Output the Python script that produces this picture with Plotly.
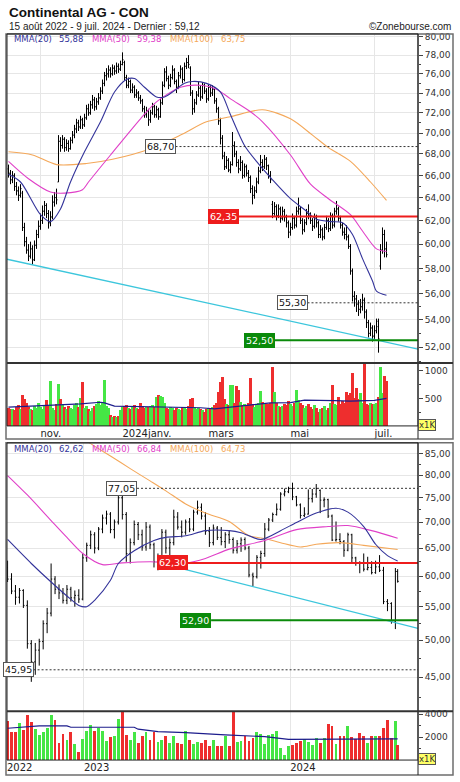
import math
import pandas as pd
import plotly.graph_objects as go

# ============================ DATA ============================
# Upper chart: daily bars, 10 Oct 2023 - 9 Jul 2024 (Xetra trading days)
daily_start, daily_end = "2023-10-10", "2024-07-09"
daily_holidays = ["2023-12-25", "2023-12-26", "2024-01-01", "2024-03-29", "2024-04-01", "2024-05-01"]

d_open = [66.6, 66.2, 65.6, 66.0, 65.0, 64.6, 64.2, 64.4, 61.4, 60.2,
          59.5, 59.0, 59.6, 58.7, 59.9, 60.8, 61.5, 62.0, 62.8, 63.3,
          62.6, 61.8, 62.3, 63.6, 64.0, 65.4, 69.2, 68.8, 69.4, 68.6,
          69.0, 68.5, 69.3, 69.8, 70.4, 71.0, 70.6, 71.3, 70.8, 71.5,
          72.4, 72.0, 72.8, 73.3, 72.6, 73.1, 73.5, 74.2, 75.0, 75.8,
          76.0, 76.4, 76.0, 76.6, 76.3, 76.8, 76.5, 77.0, 77.2, 75.6,
          74.8, 75.2, 74.3, 74.6, 73.8, 74.0, 73.5, 73.2, 72.4, 71.8,
          72.2, 71.3, 72.0, 72.6, 71.8, 72.3, 71.6, 73.0, 74.8, 76.2,
          75.5, 74.8, 75.6, 76.4, 75.2, 74.6, 75.8, 76.5, 75.4, 76.8,
          77.2, 76.6, 74.0, 72.4, 73.0, 73.8, 74.5, 73.6, 74.8, 74.2,
          73.4, 74.6, 74.0, 74.4, 73.2, 72.4, 71.2, 69.5, 67.8, 66.8,
          67.4, 66.5, 67.0, 68.8, 68.0, 67.2, 66.6, 67.2, 66.0, 66.8,
          66.2, 65.8, 64.8, 64.2, 64.6, 65.4, 66.4, 67.2, 66.8, 67.5,
          66.9, 66.0, 63.4, 62.6, 63.2, 62.4, 63.0, 62.2, 62.8, 62.3,
          61.8, 61.0, 61.4, 62.2, 61.6, 62.8, 63.0, 62.0, 61.2, 61.8,
          62.6, 62.4, 62.0, 61.5, 62.3, 61.8, 60.8, 61.2, 60.6, 61.4,
          62.0, 61.3, 62.4, 61.6, 62.8, 63.0, 62.2, 61.6, 61.0, 60.8,
          60.6, 59.8, 57.8, 55.8, 55.6, 55.2, 54.8, 55.0, 55.5, 54.6,
          53.8, 53.0, 53.4, 52.8, 53.2, 53.5, 58.2, 59.5, 60.8, 59.6]
d_high = [67.0, 66.5, 66.4, 66.2, 65.4, 65.0, 65.2, 64.6, 61.8, 60.6,
          60.0, 60.2, 59.9, 60.3, 61.2, 62.0, 62.6, 63.3, 63.7, 63.5,
          62.9, 62.8, 64.2, 64.5, 64.8, 69.8, 69.6, 69.8, 69.6, 69.4,
          69.3, 69.6, 70.2, 70.8, 71.4, 71.3, 71.7, 71.5, 71.9, 72.8,
          72.9, 73.2, 73.8, 73.6, 73.5, 74.0, 74.6, 75.4, 76.2, 76.6,
          76.9, 76.7, 77.0, 76.9, 77.2, 77.1, 77.4, 78.3, 77.4, 75.9,
          75.6, 75.4, 75.0, 74.8, 74.4, 74.2, 73.8, 73.4, 72.7, 72.6,
          72.4, 72.3, 73.0, 72.8, 72.7, 72.5, 73.4, 75.2, 76.6, 76.8,
          75.8, 76.0, 76.9, 76.6, 75.4, 76.2, 76.9, 76.7, 77.2, 77.7,
          78.0, 76.8, 74.3, 73.4, 74.2, 75.2, 74.8, 75.1, 75.0, 74.5,
          74.9, 74.8, 74.8, 74.6, 73.5, 72.6, 71.5, 69.8, 68.2, 67.8,
          67.6, 67.3, 70.1, 69.2, 68.3, 67.5, 67.8, 67.4, 67.1, 67.0,
          66.5, 66.0, 65.1, 65.0, 65.8, 66.8, 67.9, 67.5, 67.9, 67.7,
          67.0, 66.4, 63.7, 63.6, 63.4, 63.4, 63.2, 63.2, 63.0, 62.5,
          62.0, 61.8, 62.6, 62.4, 63.2, 64.0, 63.2, 62.2, 62.1, 63.0,
          63.4, 62.7, 62.2, 62.6, 62.5, 62.0, 61.6, 61.4, 61.7, 62.4,
          62.2, 62.7, 62.6, 63.1, 63.7, 63.2, 62.4, 61.8, 61.4, 61.6,
          60.8, 60.0, 58.0, 56.2, 55.9, 55.5, 55.6, 56.0, 55.7, 54.8,
          54.0, 53.8, 53.6, 53.6, 54.1, 54.1, 60.0, 61.4, 61.2, 60.2]
d_low = [65.8, 65.2, 65.3, 64.6, 64.2, 63.7, 64.0, 61.1, 59.8, 59.2,
         58.6, 58.8, 58.3, 58.6, 59.6, 60.5, 61.2, 61.7, 62.4, 62.2,
         61.3, 61.5, 62.1, 63.2, 63.4, 65.4, 68.2, 68.5, 68.2, 68.3,
         68.2, 68.4, 69.0, 69.5, 70.0, 70.2, 70.4, 70.4, 70.6, 71.3,
         71.7, 71.8, 72.4, 72.2, 72.3, 72.8, 73.3, 73.9, 74.7, 75.3,
         75.6, 75.6, 75.8, 75.9, 76.0, 76.1, 76.3, 76.9, 75.3, 74.5,
         74.5, 74.0, 74.0, 73.5, 73.5, 73.2, 72.9, 72.1, 71.5, 71.5,
         70.7, 71.0, 71.8, 71.5, 71.5, 71.3, 71.5, 72.8, 74.6, 75.2,
         74.4, 74.6, 75.4, 74.9, 74.0, 74.4, 75.5, 75.0, 75.2, 76.5,
         76.6, 73.7, 71.8, 72.0, 72.8, 73.6, 73.2, 73.4, 73.9, 73.0,
         73.2, 73.6, 73.7, 72.9, 72.0, 70.8, 68.9, 67.5, 66.5, 66.6,
         66.3, 66.2, 66.9, 67.7, 66.8, 66.2, 66.4, 65.7, 65.8, 65.9,
         65.4, 64.4, 63.4, 63.9, 64.4, 65.2, 66.2, 66.4, 66.6, 66.5,
         65.7, 65.3, 62.2, 62.4, 62.0, 62.2, 61.8, 62.0, 61.9, 61.4,
         60.5, 60.7, 61.2, 61.3, 61.4, 62.5, 61.7, 60.8, 61.0, 61.6,
         62.1, 61.7, 61.1, 61.3, 61.4, 60.5, 60.5, 60.3, 60.4, 61.2,
         61.0, 61.1, 61.3, 61.4, 62.5, 61.9, 61.3, 60.7, 60.4, 60.3,
         59.6, 57.5, 55.4, 55.0, 54.6, 54.3, 54.5, 54.7, 54.1, 53.4,
         52.7, 52.8, 52.4, 52.6, 53.0, 51.6, 57.9, 59.2, 58.9, 58.9]
d_close = [66.2, 65.6, 66.0, 65.0, 64.6, 64.2, 64.8, 61.4, 60.2, 59.5,
           59.0, 59.6, 58.7, 59.9, 60.8, 61.5, 62.0, 62.8, 63.3, 62.6,
           61.8, 62.3, 63.6, 64.0, 63.8, 69.2, 68.8, 69.4, 68.6, 69.0,
           68.5, 69.3, 69.8, 70.4, 71.0, 70.6, 71.3, 70.8, 71.5, 72.4,
           72.0, 72.8, 73.3, 72.6, 73.1, 73.5, 74.2, 75.0, 75.8, 76.0,
           76.4, 76.0, 76.6, 76.3, 76.8, 76.5, 77.0, 77.5, 75.6, 74.8,
           75.2, 74.3, 74.6, 73.8, 74.0, 73.5, 73.2, 72.4, 71.8, 72.2,
           71.3, 72.0, 72.6, 71.8, 72.3, 71.6, 73.0, 74.8, 76.2, 75.5,
           74.8, 75.6, 76.4, 75.2, 74.6, 75.8, 76.5, 75.4, 76.8, 77.2,
           77.0, 74.0, 72.4, 73.0, 73.8, 74.5, 73.6, 74.8, 74.2, 73.4,
           74.6, 74.0, 74.4, 73.2, 72.4, 71.2, 69.5, 67.8, 66.8, 67.4,
           66.5, 67.0, 68.8, 68.0, 67.2, 66.6, 67.2, 66.0, 66.8, 66.2,
           65.8, 64.8, 64.2, 64.6, 65.4, 66.4, 67.2, 66.8, 67.5, 66.9,
           66.0, 65.6, 62.6, 63.2, 62.4, 63.0, 62.2, 62.8, 62.3, 61.8,
           61.0, 61.4, 62.2, 61.6, 62.8, 63.0, 62.0, 61.2, 61.8, 62.6,
           62.4, 62.0, 61.5, 62.3, 61.8, 60.8, 61.2, 60.6, 61.4, 62.0,
           61.3, 62.4, 61.6, 62.8, 63.0, 62.2, 61.6, 61.0, 60.8, 60.6,
           59.8, 57.8, 55.8, 55.6, 55.2, 54.8, 55.0, 55.5, 54.6, 53.8,
           53.0, 53.4, 52.8, 53.2, 53.9, 52.6, 59.5, 60.8, 59.6, 59.12]
d_vol = [330, 300, 310, 290, 340, 380, 300, 565, 490, 420,
         350, 300, 280, 360, 330, 410, 350, 300, 380, 470,
         360, 810, 330, 290, 400, 770, 480, 400, 350, 300,
         360, 320, 300, 380, 420, 340, 500, 795, 330, 360,
         300, 270, 330, 360, 400, 450, 380, 410, 830, 360,
         330, 200, 160, 170, 165, 175, 290, 340, 360, 380,
         330, 300, 350, 380, 320, 300, 420, 360, 330, 340,
         350, 360, 380, 340, 530, 560, 540, 520, 420, 330,
         310, 350, 320, 290, 330, 300, 280, 340, 320, 300,
         360, 480, 500, 340, 300, 320, 300, 290, 260, 310,
         330, 300, 350, 380, 420, 620, 800, 890, 480, 400,
         380, 750, 750, 420, 730, 660, 430, 380, 400, 360,
         420, 870, 400, 350, 380, 420, 635, 430, 400, 390,
         400, 420, 1076, 620, 420, 360, 350, 370, 400, 380,
         460, 400, 360, 420, 650, 470, 420, 380, 330, 360,
         400, 340, 300, 380, 330, 250, 300, 330, 360, 280,
         330, 420, 740, 400, 380, 520, 400, 450, 420, 620,
         560, 600, 960, 500, 680, 480, 600, 420, 1135, 400,
         380, 410, 390, 400, 420, 520, 1076, 600, 910, 810]

# moving averages of the upper chart, read at bar indices
ma20_top_i = [0, 6, 16, 21, 26, 31, 38, 46, 53, 59, 63, 68, 74, 78, 82, 88, 92, 99, 106, 111,
              118, 124, 132, 141, 149, 154, 161, 167, 172, 177, 182, 184, 189]
ma20_top_v = [66.1, 65.4, 62.5, 61.9, 63.0, 65.4, 68.2, 71.1, 74.1, 75.4, 75.5, 74.6, 73.6, 73.6,
              74.1, 75.0, 75.2, 75.0, 74.1, 71.8, 68.8, 67.3, 65.6, 63.9, 62.8, 62.1, 61.9, 61.8,
              60.8, 58.8, 57.0, 56.2, 55.88]
ma50_top_i = [0, 10, 21, 28, 37, 40, 51, 66, 74, 86, 96, 104, 111, 121, 127, 141, 151, 160, 171, 177, 184, 189]
ma50_top_v = [67.3, 65.7, 64.5, 64.4, 64.7, 65.4, 67.9, 71.4, 73.1, 74.6, 74.8, 74.4, 73.4, 72.1,
              71.1, 67.9, 65.2, 63.9, 62.5, 61.1, 59.6, 59.38]
ma100_top_i = [0, 12, 24, 39, 52, 71, 86, 99, 111, 127, 141, 152, 160, 171, 181, 189]
ma100_top_v = [68.2, 67.9, 67.0, 67.1, 67.5, 68.5, 69.8, 71.1, 71.6, 72.3, 71.4, 69.8, 68.6, 67.3,
               65.4, 63.75]
vma_top_i = [0, 21, 36, 46, 48, 53, 79, 96, 103, 113, 119, 131, 141, 148, 163, 171, 183, 189]
vma_top_v = [340, 370, 400, 430, 420, 360, 340, 330, 310, 350, 370, 420, 425, 470, 460, 450, 465, 500]

month_keys = ["2023-11", "2024-01", "2024-03", "2024-05", "2024-07"]
month_labels = ["nov.", "2024janv.", "mars", "mai", "juil."]

# Lower chart: weekly bars, 19 Aug 2022 - 9 Jul 2024
w_open = [61.5, 59.5, 57.5, 56.5, 57.6, 55.2, 49.5, 47.0, 48.6, 49.8,
          52.4, 54.0, 59.5, 57.8, 57.2, 56.0, 57.8, 56.4, 56.8, 56.2,
          63.2, 65.5, 67.5, 65.0, 68.6, 70.8, 71.6, 68.5, 70.0, 75.0,
          71.5, 64.0, 66.0, 69.5, 67.5, 65.2, 69.0, 65.6, 62.5, 63.4,
          68.0, 65.0, 66.0, 71.0, 69.0, 68.0, 70.0, 68.6, 72.0, 73.0,
          71.2, 68.2, 66.0, 68.8, 67.0, 66.2, 67.5, 66.6, 64.6, 65.8,
          66.6, 65.0, 60.2, 59.9, 63.3, 64.0, 68.6, 70.4, 71.5, 72.6,
          75.8, 76.3, 77.0, 75.2, 73.5, 71.3, 71.6, 74.8, 75.8, 76.6,
          74.5, 74.6, 71.2, 66.5, 66.6, 66.2, 64.6, 67.5, 63.2, 62.3,
          62.2, 61.2, 61.5, 60.6, 61.6, 61.0, 55.8, 55.5, 52.8, 60.8]
w_high = [62.7, 60.5, 58.5, 58.0, 57.8, 56.0, 50.0, 49.6, 50.2, 52.9,
          54.8, 62.2, 60.0, 58.6, 58.0, 58.5, 58.2, 57.6, 57.8, 64.0,
          66.0, 68.3, 68.0, 69.0, 71.5, 72.3, 72.0, 70.5, 77.8, 76.0,
          72.0, 66.8, 70.3, 70.0, 68.5, 70.0, 69.5, 66.0, 64.0, 68.6,
          68.5, 66.8, 72.5, 72.0, 70.3, 70.5, 70.8, 72.5, 74.4, 73.8,
          72.0, 69.0, 69.5, 69.2, 69.0, 68.0, 68.3, 67.0, 66.5, 67.0,
          67.0, 65.4, 60.6, 63.7, 64.5, 69.8, 70.8, 71.9, 73.8, 76.2,
          77.0, 77.4, 78.3, 75.4, 73.8, 73.0, 76.8, 76.9, 78.0, 76.8,
          75.1, 74.8, 71.5, 70.1, 67.8, 66.5, 67.9, 67.7, 63.4, 62.6,
          64.0, 63.4, 62.6, 62.7, 63.7, 61.6, 56.2, 55.7, 61.4, 61.2]
w_low = [59.0, 57.0, 55.3, 55.5, 54.8, 48.8, 44.4, 45.3, 46.5, 48.7,
         51.0, 53.5, 57.0, 56.2, 55.5, 55.4, 55.8, 55.0, 55.6, 56.0,
         62.5, 64.8, 64.0, 64.6, 67.8, 69.5, 67.8, 66.8, 69.5, 70.5,
         62.5, 62.2, 65.5, 66.5, 64.5, 64.5, 64.8, 61.5, 61.0, 63.0,
         64.0, 62.5, 65.5, 68.5, 67.0, 67.5, 68.0, 68.2, 71.5, 70.5,
         67.5, 65.2, 65.5, 66.5, 65.5, 65.0, 65.8, 64.0, 64.0, 64.3,
         64.6, 59.8, 58.3, 59.6, 61.3, 63.4, 68.2, 70.0, 71.3, 72.3,
         75.3, 76.0, 74.5, 73.2, 70.7, 71.0, 71.5, 74.0, 75.0, 71.8,
         73.0, 70.8, 66.3, 66.2, 65.7, 63.4, 64.4, 62.2, 61.8, 60.5,
         60.8, 61.0, 60.3, 60.4, 60.7, 55.4, 54.3, 52.4, 51.6, 58.9]
w_close = [59.5, 57.5, 56.5, 57.6, 55.2, 49.5, 47.0, 48.6, 49.8, 52.4,
           54.0, 59.5, 57.8, 57.2, 56.0, 57.8, 56.4, 56.8, 56.2, 63.2,
           65.5, 67.5, 65.0, 68.6, 70.8, 71.6, 68.5, 70.0, 75.0, 71.5,
           64.0, 66.0, 69.5, 67.5, 65.2, 69.0, 65.6, 62.5, 63.4, 68.0,
           65.0, 66.0, 71.0, 69.0, 68.0, 70.0, 68.6, 72.0, 73.0, 71.2,
           68.2, 66.0, 68.8, 67.0, 66.2, 67.5, 66.6, 64.6, 65.8, 66.5,
           65.0, 60.2, 59.9, 63.3, 64.0, 68.6, 70.4, 71.5, 72.6, 75.8,
           76.3, 77.0, 75.2, 73.5, 71.3, 71.6, 74.8, 75.8, 77.0, 74.5,
           74.6, 71.2, 66.5, 66.6, 66.2, 64.6, 67.5, 63.2, 62.3, 62.2,
           61.2, 61.5, 60.6, 61.6, 61.0, 55.8, 55.5, 52.8, 60.8, 59.12]
w_vol = [3360, 2420, 2400, 3210, 2630, 3940, 3300, 2720, 2130, 2400,
         2770, 3940, 3450, 1460, 2280, 1750, 2420, 1400, 730, 1840,
         2480, 3070, 2480, 2770, 2480, 1660, 1960, 2100, 3560, 4230,
         2190, 1690, 2450, 1460, 2040, 2420, 1690, 2420, 1520, 1690,
         2040, 1460, 2040, 1460, 1400, 2480, 1750, 1400, 1550, 1460,
         1750, 1170, 1750, 1230, 1230, 2100, 1230, 4150, 1550, 1660,
         2040, 1610, 1900, 2420, 2280, 1400, 2190, 2280, 2480, 1020,
         440, 1230, 1260, 1460, 1610, 1810, 1520, 1310, 1900, 1460,
         1900, 3150, 2980, 1400, 2040, 2100, 2980, 1960, 1810, 2340,
         2100, 1460, 2040, 2100, 2100, 2770, 3500, 1900, 3360, 1310]

ma20_bot_k = [0, 6, 11, 15, 18, 20, 22, 26, 28, 32, 37, 40, 45, 50, 56, 59, 64, 69, 73, 78, 83, 86, 90, 93, 96, 99]
ma20_bot_v = [66.6, 62.2, 59.0, 56.7, 55.2, 55.0, 56.0, 59.3, 62.2, 64.5, 66.4, 67.0, 67.3, 68.3,
              68.3, 67.9, 66.6, 68.3, 69.9, 71.8, 72.8, 72.0, 69.1, 65.7, 63.6, 62.62]
ma50_bot_k = [0, 5, 11, 15, 19, 24, 29, 36, 45, 50, 56, 65, 73, 81, 86, 92, 99]
ma50_bot_v = [79.9, 75.6, 70.3, 67.0, 64.0, 62.0, 62.3, 62.5, 62.3, 63.1, 64.8, 66.4, 68.5, 69.1,
              69.3, 68.3, 66.84]
ma100_bot_k = [17, 21, 26, 31, 36, 40, 45, 50, 56, 61, 65, 69, 74, 78, 84, 90, 99]
ma100_bot_v = [90.5, 87.5, 84.5, 81.5, 78.7, 76.5, 73.7, 71.8, 70.1, 67.3, 66.8, 66.0, 65.2, 65.7,
               66.0, 65.5, 64.73]
vma_bot_k = [0, 5, 8, 15, 16, 32, 33, 38, 45, 55, 60, 65, 71, 82, 99]
vma_bot_v = [2770, 2920, 2980, 2980, 2860, 2860, 2690, 2480, 2390, 2190, 2100, 2040, 1810, 1810, 1840]

# reference levels and trend lines
top_levels = [68.70, 62.35, 55.30, 52.50]
top_trend = [58.75, 51.86]
bot_levels = [77.05, 62.30, 52.90, 45.95]
bot_trend = [61.6, 51.7]
legend_top = [55.88, 59.38, 63.75]
legend_bot = [62.62, 66.84, 64.73]
last_close = 59.12

# ============================ LAYOUT HELPERS ============================
W, H = 460, 782
def PX(x): return x / W
def PY(y): return 1 - y / H

C20, C50, C100 = "#33339a", "#e040c8", "#f4a85a"
CYAN = "#3cc6dc"
RED, GREEN = "#ee1c1c", "#0a8a0a"
VRED, VGREEN = "#ee2e2e", "#45e645"
GRID = "#e6e6e6"
FONT = "DejaVu Sans"
DASH = "2px,2px"

def fr(v):
    return f"{v:.2f}".replace(".", ",")

ddates = [d for d in pd.bdate_range(daily_start, daily_end) if d.strftime("%Y-%m-%d") not in daily_holidays]
assert len(ddates) == len(d_close) == len(d_open) == len(d_high) == len(d_low) == len(d_vol)
xi = list(range(len(ddates)))
month_idx = [next(i for i, d in enumerate(ddates) if d.strftime("%Y-%m") == m) for m in month_keys]

wdates = list(pd.date_range("2022-08-19", "2024-07-05", freq="W-FRI")) + [pd.Timestamp("2024-07-09")]
assert len(wdates) == len(w_close) == len(w_vol)

TOP_XR = [-0.75, 204.75]
BOT_XR = ["2022-08-18", "2024-08-14"]
XD = [PX(7), PX(418)]

fig = go.Figure()

# ---------------- upper chart ----------------
for ki, kv, col in [(ma100_top_i, ma100_top_v, C100), (ma50_top_i, ma50_top_v, C50), (ma20_top_i, ma20_top_v, C20)]:
    fig.add_trace(go.Scatter(x=ki, y=kv, mode="lines", line=dict(color=col, width=1.1, shape="spline", smoothing=0.8),
                             xaxis="x", yaxis="y", hoverinfo="skip"))
fig.add_trace(go.Scatter(x=TOP_XR, y=top_trend, mode="lines", line=dict(color=CYAN, width=1.3),
                         xaxis="x", yaxis="y", hoverinfo="skip"))
fig.add_trace(go.Ohlc(x=xi, open=d_open, high=d_high, low=d_low, close=d_close, xaxis="x", yaxis="y",
                      increasing=dict(line=dict(color="#000000", width=1)),
                      decreasing=dict(line=dict(color="#000000", width=1)),
                      tickwidth=0.5, hoverinfo="skip"))

top_level_style = [("dash", "#333333", 1, 83.5), ("solid", RED, 2, 115), ("dash", "#333333", 1, 149.5), ("solid", GREEN, 2, 133)]
for lv, (ds, col, wd, x0) in zip(top_levels, top_level_style):
    fig.add_trace(go.Scatter(x=[x0, TOP_XR[1]], y=[lv, lv], mode="lines",
                             line=dict(color=col, width=wd, dash=DASH if ds == "dash" else "solid"),
                             xaxis="x", yaxis="y", hoverinfo="skip"))

up_cols = []
for i in xi:
    prev = d_close[i - 1] if i else d_open[0]
    up_cols.append(VGREEN if d_close[i] >= prev else VRED)
fig.add_trace(go.Bar(x=xi, y=d_vol, marker=dict(color=up_cols, line=dict(width=0)), width=1.2,
                     xaxis="x2", yaxis="y2", hoverinfo="skip"))
fig.add_trace(go.Scatter(x=vma_top_i, y=vma_top_v, mode="lines", line=dict(color="#1c1c8c", width=1.2),
                         xaxis="x2", yaxis="y2", hoverinfo="skip"))

# ---------------- lower chart ----------------
for kk, kv, col in [(ma100_bot_k, ma100_bot_v, C100), (ma50_bot_k, ma50_bot_v, C50), (ma20_bot_k, ma20_bot_v, C20)]:
    fig.add_trace(go.Scatter(x=[wdates[k] for k in kk], y=kv, mode="lines",
                             line=dict(color=col, width=1.1, shape="spline", smoothing=0.8),
                             xaxis="x3", yaxis="y3", hoverinfo="skip"))
fig.add_trace(go.Scatter(x=["2023-06-11", BOT_XR[1]], y=bot_trend, mode="lines", line=dict(color=CYAN, width=1.3),
                         xaxis="x3", yaxis="y3", hoverinfo="skip"))
fig.add_trace(go.Ohlc(x=wdates, open=w_open, high=w_high, low=w_low, close=w_close, xaxis="x3", yaxis="y3",
                      increasing=dict(line=dict(color="#000000", width=1)),
                      decreasing=dict(line=dict(color="#000000", width=1)),
                      tickwidth=0.5, hoverinfo="skip"))
bot_level_style = [("dash", "#333333", 1, "2023-04-05"), ("solid", RED, 2, "2023-07-04"),
                   ("solid", GREEN, 2, "2023-08-14"), ("dash", "#333333", 1, "2022-10-04")]
for lv, (ds, col, wd, x0) in zip(bot_levels, bot_level_style):
    fig.add_trace(go.Scatter(x=[x0, BOT_XR[1]], y=[lv, lv], mode="lines",
                             line=dict(color=col, width=wd, dash=DASH if ds == "dash" else "solid"),
                             xaxis="x3", yaxis="y3", hoverinfo="skip"))

w_cols = []
for k in range(len(wdates)):
    prev = w_close[k - 1] if k else w_open[0]
    w_cols.append(VGREEN if w_close[k] >= prev else VRED)
fig.add_trace(go.Bar(x=wdates, y=w_vol, marker=dict(color=w_cols, line=dict(width=0)), width=5 * 86400000,
                     xaxis="x4", yaxis="y4", hoverinfo="skip"))
fig.add_trace(go.Scatter(x=[wdates[k] for k in vma_bot_k], y=vma_bot_v, mode="lines",
                         line=dict(color="#1c1c8c", width=1.2), xaxis="x4", yaxis="y4", hoverinfo="skip"))

# ---------------- axes ----------------
tickfont = dict(family=FONT, size=9, color="#333333")
xfont = dict(family=FONT, size=10, color="#222222")

top_ticks = list(range(52, 81, 2))
bot_ticks = list(range(45, 86, 5))

def ylog(domain, lo, hi, ticks, minor, anchor):
    return dict(domain=domain, type="log", range=[math.log10(lo), math.log10(hi)], side="right", anchor=anchor,
                tickvals=ticks, ticktext=[fr(v) for v in ticks], ticks="outside", ticklen=4,
                tickcolor="#444444", tickfont=tickfont, showgrid=True, gridcolor=GRID, zeroline=False,
                showline=False, fixedrange=True,
                minor=dict(tickvals=minor, ticks="outside", ticklen=2, tickcolor="#444444", showgrid=False))

fig.update_layout(
    width=W, height=H, margin=dict(l=0, r=0, t=0, b=0),
    paper_bgcolor="white", plot_bgcolor="white", showlegend=False, bargap=0,
    xaxis=dict(domain=XD, range=TOP_XR, anchor="y", tickvals=month_idx, showticklabels=False, ticks="",
               showgrid=True, gridcolor=GRID, zeroline=False, rangeslider=dict(visible=False), fixedrange=True),
    xaxis2=dict(domain=XD, range=TOP_XR, anchor="y2", tickvals=month_idx, ticktext=month_labels,
                ticklabelposition="outside right", ticks="", tickfont=xfont,
                showgrid=True, gridcolor=GRID, zeroline=False, rangeslider=dict(visible=False), fixedrange=True),
    xaxis3=dict(domain=XD, range=BOT_XR, type="date", anchor="y3", tickvals=["2023-01-01", "2024-01-01"],
                showticklabels=False, ticks="", showgrid=True, gridcolor=GRID, zeroline=False,
                rangeslider=dict(visible=False), fixedrange=True),
    xaxis4=dict(domain=XD, range=BOT_XR, type="date", anchor="y4",
                tickvals=["2022-08-18", "2023-01-01", "2024-01-01"], ticktext=["2022", "2023", "2024"],
                ticklabelposition="outside right", ticks="", tickfont=xfont,
                showgrid=True, gridcolor=GRID, zeroline=False, rangeslider=dict(visible=False), fixedrange=True),
    yaxis=ylog([PY(362), PY(32)], 50.86, 80.33, top_ticks, list(range(51, 81, 2)), "x"),
    yaxis2=dict(domain=[PY(425), PY(362)], range=[0, 1143], side="right", anchor="x2",
                tickvals=[500, 1000], ticktext=["500", "1000"], ticks="outside", ticklen=4, tickcolor="#444444",
                tickfont=tickfont, showgrid=False, zeroline=False, fixedrange=True,
                minor=dict(tickvals=[250, 750], ticks="outside", ticklen=2, tickcolor="#444444", showgrid=False)),
    yaxis3=ylog([PY(711), PY(442)], 40.84, 87.70, bot_ticks, [42.5 + 5 * j for j in range(9)], "x3"),
    yaxis4=dict(domain=[PY(760), PY(711)], range=[0, 4260], side="right", anchor="x4",
                tickvals=[2000, 4000], ticktext=["2000", "4000"], ticks="outside", ticklen=4, tickcolor="#444444",
                tickfont=tickfont, showgrid=False, zeroline=False, fixedrange=True,
                minor=dict(tickvals=[1000, 3000], ticks="outside", ticklen=2, tickcolor="#444444", showgrid=False)),
)

# ---------------- frames ----------------
shapes = []
def rect(x0, y0, x1, y1, col, w):
    shapes.append(dict(type="rect", xref="paper", yref="paper", x0=PX(x0), x1=PX(x1), y0=PY(y1), y1=PY(y0),
                       line=dict(color=col, width=w), fillcolor="rgba(0,0,0,0)", layer="above"))
def line(x0, y0, x1, y1, col, w):
    shapes.append(dict(type="line", xref="paper", yref="paper", x0=PX(x0), x1=PX(x1), y0=PY(y0), y1=PY(y1),
                       line=dict(color=col, width=w), layer="above"))
for (t, s, b, bot) in [(32, 362, 425, 438), (442, 711, 760, 775)]:
    rect(6, t, 453, bot, "#6e6e6e", 1.5)
    rect(7, t, 418, b, "#222222", 1)
    line(418, t, 418, bot, "#222222", 1)
    line(7, s, 453, s, "#333333", 2)
fig.update_layout(shapes=shapes)

# ---------------- texts ----------------
ann = []
def ptext(text, x, y, size, color="#111111", anchor="left", family="Liberation Sans"):
    ann.append(dict(text=text, x=PX(x), y=PY(y), xref="paper", yref="paper", xanchor=anchor, yanchor="middle",
                    showarrow=False, font=dict(family=family, size=size, color=color)))

ptext("<b>Continental AG - CON</b>", 7, 11, 13.5)
ptext(f"15 août 2022 - 9 juil. 2024 - Dernier : {fr(last_close)}", 7, 25, 10, "#222222")
ptext("©Zonebourse.com", 453, 25, 10, "#222222", anchor="right")

for (yy, vals) in [(37, legend_top), (448, legend_bot)]:
    pieces = [("MMA(20)", 12, C20), (fr(vals[0]), 57, C20), ("MMA(50)", 90, C50), (fr(vals[1]), 135, C50),
              ("MMA(100)", 168, C100), (fr(vals[2]), 219, C100)]
    for txt, x, col in pieces:
        ptext(txt, x, yy, 8.5, col, family=FONT)

for yy in (424, 759):
    ann.append(dict(text="x1K", x=PX(418), y=PY(yy), xref="paper", yref="paper", xanchor="left", yanchor="middle",
                    showarrow=False, bgcolor="#ffff66", bordercolor="#555555", borderwidth=1, borderpad=0,
                    font=dict(family=FONT, size=8.5, color="#333333")))

def lvl(text, x, v, xr, yr, bg, fg, border):
    ann.append(dict(text=text, x=x, y=math.log10(v), xref=xr, yref=yr, xanchor="right", yanchor="middle",
                    showarrow=False, bgcolor=bg, bordercolor=border, borderwidth=1, borderpad=1,
                    font=dict(family=FONT, size=9.5, color=fg)))

top_label_style = [("white", "#111111", "#555555", 83.5), (RED, "white", RED, 115),
                   ("white", "#111111", "#555555", 149.5), (GREEN, "white", GREEN, 133)]
for lv, (bg, fg, bd, x0) in zip(top_levels, top_label_style):
    lvl(fr(lv), x0, lv, "x", "y", bg, fg, bd)
bot_label_style = [("white", "#111111", "#555555", "2023-04-05"), (RED, "white", RED, "2023-07-04"),
                   (GREEN, "white", GREEN, "2023-08-14"), ("white", "#111111", "#555555", "2022-10-04")]
for lv, (bg, fg, bd, x0) in zip(bot_levels, bot_label_style):
    lvl(fr(lv), x0, lv, "x3", "y3", bg, fg, bd)

fig.update_layout(annotations=ann)
fig.write_html("out.html")
